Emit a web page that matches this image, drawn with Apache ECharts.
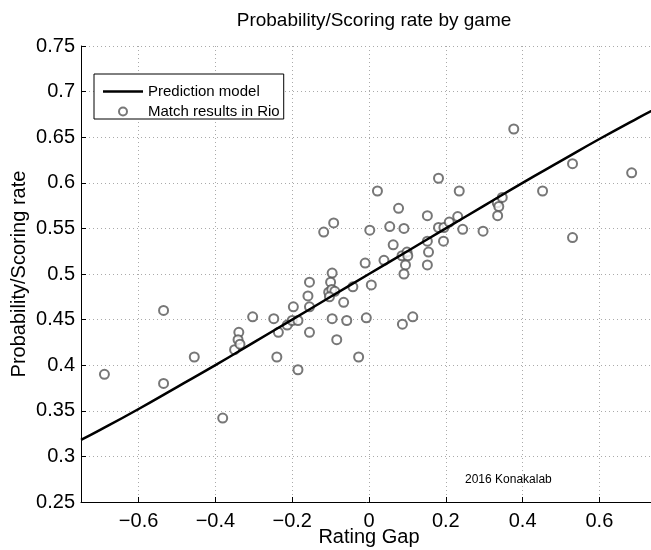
<!DOCTYPE html>
<html>
<head>
<meta charset="utf-8">
<script src="https://cdn.jsdelivr.net/npm/echarts@6/dist/echarts.min.js"></script>
<style>html,body{margin:0;padding:0;background:#fff}#c{width:651px;height:550px}</style>
</head>
<body>
<div id="c"></div>
<script>
// Match results (rating gap, scoring rate)
const ratingGap = [-0.689,-0.535,-0.535,-0.455,-0.381,-0.350,-0.339,-0.341,-0.336,-0.303,-0.248,-0.236,-0.240,-0.213,-0.197,-0.200,-0.185,-0.185,-0.155,-0.159,-0.155,-0.155,-0.118,-0.092,-0.096,-0.100,-0.105,-0.097,-0.089,-0.103,-0.096,-0.084,-0.066,-0.058,-0.042,-0.027,-0.007,-0.010,0.006,0.002,0.022,0.039,0.087,0.114,0.054,0.063,0.077,0.091,0.086,0.099,0.101,0.095,0.091,0.152,0.152,0.155,0.152,0.181,0.181,0.195,0.209,0.231,0.194,0.235,0.244,0.377,0.297,0.334,0.338,0.347,0.335,0.452,0.530,0.530,0.684];
const scoringRate = [0.390,0.460,0.380,0.409,0.342,0.417,0.436,0.428,0.423,0.453,0.451,0.436,0.409,0.444,0.464,0.449,0.449,0.395,0.436,0.476,0.464,0.491,0.546,0.556,0.501,0.491,0.480,0.483,0.481,0.475,0.451,0.428,0.469,0.449,0.486,0.409,0.452,0.512,0.488,0.548,0.591,0.515,0.445,0.453,0.552,0.532,0.572,0.550,0.520,0.524,0.520,0.510,0.500,0.564,0.536,0.524,0.510,0.605,0.551,0.551,0.557,0.563,0.536,0.591,0.549,0.659,0.547,0.578,0.574,0.584,0.564,0.591,0.621,0.540,0.611];
// Prediction model curve
const modelGap  = [-0.75,-0.7,-0.6,-0.5,-0.4,-0.3,-0.2,-0.1,0,0.1,0.2,0.3,0.4,0.5,0.6,0.7,0.75];
const modelProb = [0.318,0.329,0.352,0.376,0.400,0.425,0.450,0.475,0.500,0.525,0.550,0.575,0.600,0.624,0.648,0.671,0.682];
// Tick labels
const xTicks = [-0.6,-0.4,-0.2,0,0.2,0.4,0.6];
const yMin = 0.25, yMax = 0.75, yStep = 0.05;
const xMin = -0.75, xMax = 0.75;

const FONT = "'Liberation Sans', Arial, Helvetica, sans-serif";
const chart = echarts.init(document.getElementById('c'), null, {renderer: 'canvas'});
const fmtX = v => { const r = Math.round(v * 100) / 100; return r < 0 ? '\u2212' + Math.abs(r) : String(r); };
const fmtY = v => String(+(+v).toFixed(2));

chart.setOption({
  animation: false,
  backgroundColor: '#fff',
  title: {
    text: 'Probability/Scoring rate by game',
    left: 369, top: 6, textAlign: 'center',
    textStyle: {fontFamily: FONT, fontSize: 19, fontWeight: 'normal', color: '#000'}
  },
  grid: {left: 81, right: -6, top: 46, bottom: 48, containLabel: false, outerBoundsMode: 'none'},
  legend: {
    left: 94, top: 74, orient: 'vertical',
    padding: [10, 4, 0, 9], itemGap: 5, itemWidth: 40, itemHeight: 8,
    borderColor: '#000', borderWidth: 1, backgroundColor: '#fff',
    textStyle: {fontFamily: FONT, fontSize: 15, color: '#000'},
    data: [
      {name: 'Prediction model', icon: 'path://M0 0H40V2.5H0Z'},
      {name: 'Match results in Rio', icon: 'emptyCircle'}
    ]
  },
  xAxis: {
    type: 'value', min: xMin, max: xMax,
    name: 'Rating Gap', nameLocation: 'middle', nameGap: 25, nameMoveOverlap: false,
    nameTextStyle: {fontFamily: FONT, fontSize: 20, color: '#000'},
    axisLine: {show: true, onZero: false, lineStyle: {color: '#000', width: 1}},
    axisTick: {show: true, inside: true, length: 5, customValues: xTicks, lineStyle: {color: '#000'}},
    axisLabel: {customValues: xTicks, formatter: fmtX, margin: 9, fontFamily: FONT, fontSize: 20, color: '#000'},
    splitLine: {show: true, lineStyle: {color: '#aaa', width: 1, type: [1, 3]}}
  },
  yAxis: {
    type: 'value', min: yMin, max: yMax, interval: yStep,
    name: 'Probability/Scoring rate', nameLocation: 'middle', nameGap: 52, nameMoveOverlap: false,
    nameTextStyle: {fontFamily: FONT, fontSize: 20, color: '#000'},
    axisLine: {show: true, onZero: false, lineStyle: {color: '#000', width: 1}},
    axisTick: {show: true, inside: true, length: 5, lineStyle: {color: '#000'}},
    axisLabel: {formatter: fmtY, margin: 6, fontFamily: FONT, fontSize: 20, color: '#000'},
    splitLine: {show: true, lineStyle: {color: '#aaa', width: 1, type: [1, 3]}}
  },
  graphic: [{
    type: 'text', left: 465, top: 474, z: 10,
    style: {text: '2016 Konakalab', fontFamily: FONT, fontSize: 12, fill: '#000'}
  }],
  series: [
    {
      name: 'Match results in Rio', type: 'scatter',
      symbol: 'emptyCircle', symbolSize: 9,
      itemStyle: {color: '#555', borderColor: '#555', borderWidth: 1.5},
      data: ratingGap.map((g, i) => [g, scoringRate[i]]),
      z: 2
    },
    {
      name: 'Prediction model', type: 'line', smooth: true,
      symbol: 'none', showSymbol: false,
      lineStyle: {color: '#000', width: 2.5},
      itemStyle: {color: '#000'},
      data: modelGap.map((g, i) => [g, modelProb[i]]),
      z: 3
    }
  ]
});
</script>
</body>
</html>
